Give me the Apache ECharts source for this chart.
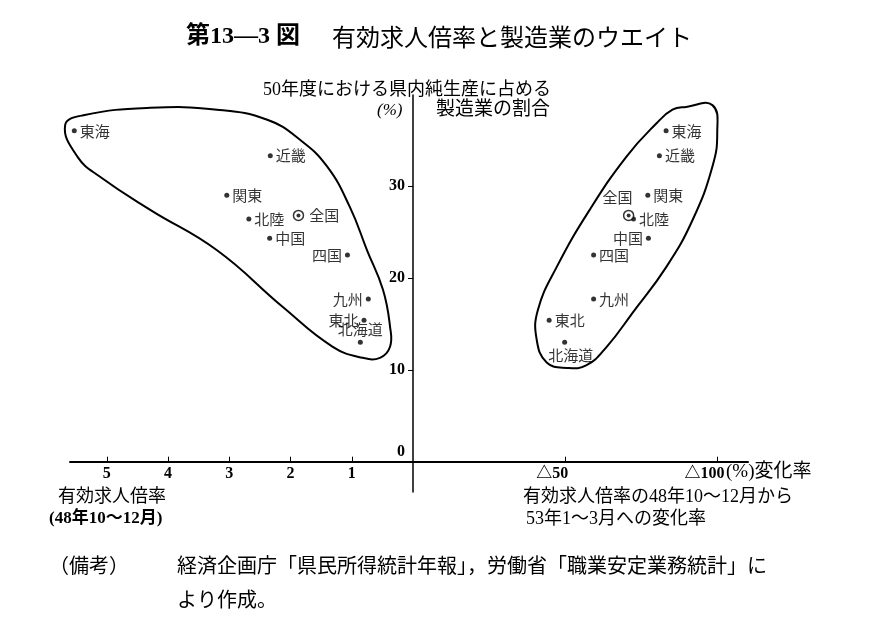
<!DOCTYPE html>
<html>
<head>
<meta charset="utf-8">
<script src="https://cdn.jsdelivr.net/npm/echarts@6/dist/echarts.min.js"></script>
<style>html,body{margin:0;padding:0;background:#fff}#c{width:874px;height:632px}</style>
</head>
<body>
<div id="c"></div>
<script>
// ---- data ----
const regions = ['東海','近畿','関東','北陸','全国','中国','四国','九州','東北','北海道'];
// 有効求人倍率 (48年10～12月)
const jobRatio = [5.53, 2.33, 3.04, 2.68, 1.87, 2.34, 1.07, 0.73, 0.80, 0.86];
// 有効求人倍率の48年10～12月から53年1～3月への変化率 (%), negative = △
const ratioChange = [-83.1, -80.9, -77.1, -72.4, -70.8, -77.3, -59.3, -59.3, -44.7, -49.8];
// 50年度における県内純生産に占める製造業の割合 (%)
const mfgShare = [36.0, 33.3, 29.0, 26.4, 26.8, 24.3, 22.5, 17.7, 15.4, 13.0];
const nationalName = '全国';

// tick values
const leftTicks = [1, 2, 3, 4, 5];
const rightTicks = [-50, -100];
const yTicks = [0, 10, 20, 30];

// group outlines (annotation loops, in data units)
const leftLoopX = [5.68, 5.38, 4.29, 3.20, 2.38, 1.84, 1.40, 1.03, 0.75, 0.49, 0.375, 0.375, 0.54, 0.82, 1.31, 2.12, 3.20, 4.29, 5.11, 5.48];
const leftLoopY = [36.6, 37.7, 38.5, 38.3, 37.2, 35.0, 32.1, 27.7, 23.0, 18.7, 14.7, 12.5, 11.3, 11.3, 12.5, 16.8, 23.0, 27.4, 31.0, 33.2];
const rightLoopX = [-89.7, -98.3, -99.9, -98.3, -91.8, -83.2, -72.1, -63.6, -57.0, -50.5, -43.9, -40.6, -41.0, -47.2, -58.0, -70.1, -79.9, -85.2];
const rightLoopY = [38.6, 38.8, 35.8, 32.1, 26.3, 21.2, 16.2, 12.5, 10.5, 10.2, 10.8, 13.3, 16.5, 21.2, 27.4, 33.2, 36.8, 38.3];

// ---- label styling (kept separate from data) ----
const leftLabelPos = ['right','right','right','right','right','right','left','left','left','top'];
const rightLabelPos = ['right','right','right','right','top','left','right','right','right','bottom'];
const rightLabelOffset = [[0,0],[0,0],[0,0],[0,0],[-11,0],[0,0],[0,0],[0,0],[0,0],[6,0]];

const FONT = '"Liberation Serif", "Noto Sans CJK JP", serif';
const CJK = '"Noto Sans CJK JP", sans-serif';

function pointSeries(xs, labelPos, offsets, xi) {
  const data = regions.map((r, i) => {
    const item = {
      name: r,
      value: [xs[i], mfgShare[i]],
      label: { position: labelPos[i], offset: offsets ? offsets[i] : [0, 0] }
    };
    if (r === nationalName) {
      item.symbolSize = 10;
      item.itemStyle = { color: '#fff', borderColor: '#000', borderWidth: 1.5 };
      item.label.distance = 5;
    }
    return item;
  });
  const centre = regions.map((r, i) => r === nationalName ? [xs[i], mfgShare[i]] : null).filter(Boolean);
  return [
    {
      type: 'scatter', xAxisIndex: xi, yAxisIndex: xi, symbol: 'circle', symbolSize: 5,
      itemStyle: { color: '#000' }, data: data, silent: true,
      label: { show: true, formatter: '{b}', color: '#000', fontFamily: CJK, fontSize: 15, distance: 3 }
    },
    {
      type: 'scatter', xAxisIndex: xi, yAxisIndex: xi, symbol: 'circle', symbolSize: 4,
      itemStyle: { color: '#000' }, data: centre, silent: true, z: 3
    }
  ];
}

function loopSeries(lx, ly, xi) {
  return {
    type: 'custom', xAxisIndex: xi, yAxisIndex: xi, silent: true, clip: false,
    data: [[0, 0]],
    renderItem: function (params, api) {
      return {
        type: 'polygon',
        shape: { points: lx.map((x, i) => api.coord([x, ly[i]])), smooth: 0.45 },
        style: { fill: 'none', stroke: '#000', lineWidth: 2 }
      };
    }
  };
}

const chart = echarts.init(document.getElementById('c'), null, { renderer: 'canvas' });
const yMin = -3.3, yMax = 39.9;
const gridTop = 95, gridBottom = 140, H = 632;
const gridH = H - gridTop - gridBottom;
// move the x axes up from the grid bottom to the y = 0 level
const xAxisOffset = -gridH * (0 - yMin) / (yMax - yMin);

chart.setOption({
  animation: false,
  backgroundColor: '#fff',
  title: [
    { text: '{b|第13—3 図}{n|有効求人倍率と製造業のウエイト}', left: 181, top: 20,
      textStyle: { rich: {
        b: { fontFamily: FONT, fontWeight: 'bold', fontSize: 24, color: '#000' },
        n: { fontFamily: CJK, fontWeight: 'normal', fontSize: 24, color: '#000', padding: [0, 0, 0, 32] } } } },
    { text: '50年度における県内純生産に占める', left: 258, top: 76,
      textStyle: { fontFamily: FONT, fontWeight: 'normal', fontSize: 18, color: '#000' } },
    { text: '(%)', left: 372, top: 97,
      textStyle: { fontFamily: FONT, fontStyle: 'italic', fontWeight: 'normal', fontSize: 17, color: '#000' } },
    { text: '製造業の割合', left: 431, top: 96,
      textStyle: { fontFamily: FONT, fontWeight: 'normal', fontSize: 19, color: '#000' } },
    { text: '有効求人倍率', left: 53, top: 483,
      textStyle: { fontFamily: FONT, fontWeight: 'normal', fontSize: 18, color: '#000' } },
    { text: '(48年10～12月)', left: 44, top: 505,
      textStyle: { fontFamily: FONT, fontWeight: 'bold', fontSize: 17, color: '#000' } },
    { text: '有効求人倍率の48年10～12月から', left: 518, top: 483,
      textStyle: { fontFamily: FONT, fontWeight: 'normal', fontSize: 18, color: '#000' } },
    { text: '53年1～3月への変化率', left: 521, top: 505,
      textStyle: { fontFamily: FONT, fontWeight: 'normal', fontSize: 18, color: '#000' } },
    { text: '（備考）', left: 44, top: 550,
      textStyle: { fontFamily: CJK, fontWeight: 'normal', fontSize: 20, color: '#000' } },
    { text: '経済企画庁「県民所得統計年報」，労働省「職業安定業務統計」に', left: 172, top: 550,
      textStyle: { fontFamily: CJK, fontWeight: 'normal', fontSize: 20, color: '#000' } },
    { text: 'より作成。', left: 172, top: 584,
      textStyle: { fontFamily: CJK, fontWeight: 'normal', fontSize: 20, color: '#000' } }
  ],
  grid: [
    { left: 70, right: 461, top: gridTop, bottom: gridBottom, containLabel: false },
    { left: 413, right: 126, top: gridTop, bottom: gridBottom, containLabel: false }
  ],
  xAxis: [
    { type: 'value', gridIndex: 0, min: 0, max: 5.6, inverse: true, offset: xAxisOffset,
      axisLine: { show: true, onZero: false, lineStyle: { color: '#000', width: 2 } },
      axisTick: { show: true, inside: true, length: 5, customValues: leftTicks, lineStyle: { color: '#000', width: 1 } },
      axisLabel: { show: true, customValues: leftTicks, margin: 4, color: '#000',
        fontFamily: FONT, fontWeight: 'bold', fontSize: 16 },
      splitLine: { show: false } },
    { type: 'value', gridIndex: 1, min: -110, max: 0, inverse: true, offset: xAxisOffset,
      axisLine: { show: true, onZero: false, lineStyle: { color: '#000', width: 2 } },
      axisTick: { show: true, inside: true, length: 5, customValues: rightTicks, lineStyle: { color: '#000', width: 1 } },
      axisLabel: { show: true, customValues: rightTicks, margin: 4, color: '#000', padding: [0, 26, 0, 0],
        fontFamily: FONT, fontWeight: 'bold', fontSize: 16,
        formatter: v => '△' + Math.abs(v) },
      name: '(%)変化率', nameLocation: 'start', nameGap: -22, nameMoveOverlap: false,
      nameTextStyle: { fontFamily: FONT, fontSize: 19, color: '#000', align: 'left', verticalAlign: 'top', padding: [1, 0, 0, 0] },
      splitLine: { show: false } }
  ],
  yAxis: [
    { type: 'value', gridIndex: 0, min: yMin, max: yMax, show: false, splitLine: { show: false } },
    { type: 'value', gridIndex: 1, min: yMin, max: yMax, position: 'left',
      axisLine: { show: true, onZero: false, lineStyle: { color: '#000', width: 1.5 } },
      axisTick: { show: true, inside: false, length: 5, customValues: [10, 20, 30], lineStyle: { color: '#000', width: 1 } },
      axisLabel: { show: true, customValues: yTicks, margin: 8,
        formatter: v => v === 0 ? '{z|0}' : '{n|' + v + '}',
        rich: {
          n: { fontFamily: FONT, fontWeight: 'bold', fontSize: 16, color: '#000' },
          z: { fontFamily: FONT, fontWeight: 'bold', fontSize: 16, color: '#000', padding: [0, 0, 20, 0] }
        } },
      splitLine: { show: false } }
  ],
  series: [
    loopSeries(leftLoopX, leftLoopY, 0),
    loopSeries(rightLoopX, rightLoopY, 1),
    ...pointSeries(jobRatio, leftLabelPos, null, 0),
    ...pointSeries(ratioChange, rightLabelPos, rightLabelOffset, 1)
  ]
});
</script>
</body>
</html>
